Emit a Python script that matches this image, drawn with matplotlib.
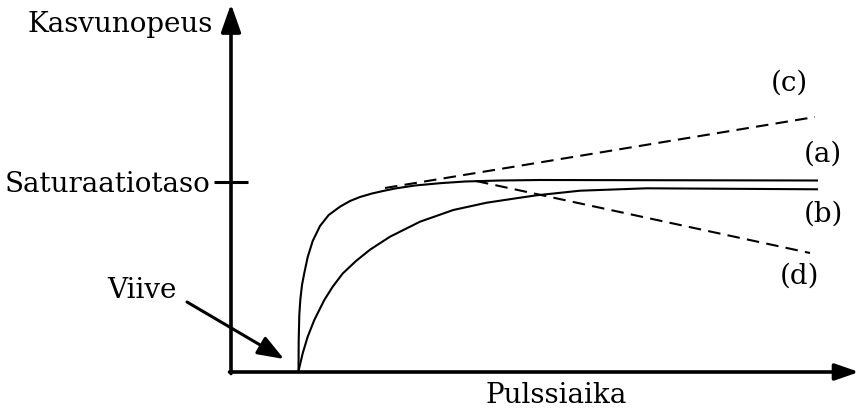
import matplotlib
matplotlib.use("Agg")
import matplotlib.pyplot as plt

plt.rcParams['font.family'] = ['DejaVu Serif']

W, H = 860, 411
# akselien alkupiste ja koko pikseleinä
X0, Y0 = 231, 372
AX_W, AX_H = 629, 367

# kasvunopeus pulssiajan funktiona (t, r)
t_a = [67.5, 67.7, 68.3, 69.3, 71, 73.3, 76.7, 81.7, 89, 97.7, 109, 119, 129,
       141, 152, 164, 184, 209, 234, 269, 309, 587]
r_a = [0, 32, 57, 72, 87, 99, 115, 131, 146, 157, 165.3, 171, 175,
       178.5, 181, 183.5, 186.5, 188.8, 190.5, 191.5, 192, 191.5]

t_b = [67.3, 71.7, 76.7, 83.3, 93.3, 101.7, 111.7, 125, 139, 159, 189, 222.3,
       255.7, 289, 305.7, 349, 415.7, 587]
r_b = [0, 18.7, 35.3, 52, 72, 85.3, 98.5, 111, 122.3, 135.3, 150.3, 162,
       169.3, 174.3, 176.7, 181.3, 183.7, 182.7]

t_c = [154, 584]
r_c = [184, 255]

t_d = [245, 579]
r_d = [191, 119]

SAT = 190.3
curve_labels = ['(a)', '(b)', '(c)', '(d)']
label_pos = [(592, 218), (592, 158), (558, 289), (568, 96)]

fig = plt.figure(figsize=(W / 100, H / 100), dpi=100)
ax = fig.add_axes([X0 / W, (H - Y0) / H, AX_W / W, AX_H / H])
ax.set_xlim(0, AX_W)
ax.set_ylim(0, AX_H)

for s in ax.spines.values():
    s.set_visible(False)

# akselit nuolina
ax.annotate('', xy=(0, AX_H + 1), xytext=(0, -1.5), annotation_clip=False,
            arrowprops=dict(arrowstyle='-|>,head_length=0.85,head_width=0.3',
                            lw=2.6, color='k', shrinkA=0, shrinkB=0, mutation_scale=20))
ax.annotate('', xy=(AX_W - 1, 0), xytext=(-1.5, 0), annotation_clip=False,
            arrowprops=dict(arrowstyle='-|>,head_length=0.72,head_width=0.25',
                            lw=2.6, color='k', shrinkA=0, shrinkB=0, mutation_scale=20))

ax.set_xticks([])
ax.set_yticks([SAT])
ax.set_yticklabels(['Saturaatiotaso'], fontsize=20)
ax.tick_params(axis='y', direction='inout', length=25, width=2.2, pad=2.5)

ax.plot(t_a, r_a, color='k', lw=1.5, solid_capstyle='butt', solid_joinstyle='round')
ax.plot(t_b, r_b, color='k', lw=1.5, solid_capstyle='butt', solid_joinstyle='round')
ax.plot(t_c, r_c, color='k', lw=1.5, dashes=(6, 3.5))
ax.plot(t_d, r_d, color='k', lw=1.5, dashes=(6, 3.5))

for lab, (x, y) in zip(curve_labels, label_pos):
    ax.text(x, y, lab, fontsize=20, ha='center', va='center')

ax.text(-18, 347, 'Kasvunopeus', fontsize=20, ha='right', va='center', clip_on=False)
ax.text(325, -10, 'Pulssiaika', fontsize=20, ha='center', va='top', clip_on=False)

ax.text(-54, 82, 'Viive', fontsize=20, ha='right', va='center', clip_on=False)
ax.annotate('', xy=(53, 13), xytext=(-44, 70), annotation_clip=False,
            arrowprops=dict(arrowstyle='-|>,head_length=0.8,head_width=0.3',
                            lw=2.2, color='k', shrinkA=0, shrinkB=0, mutation_scale=20))

fig.savefig('out.png', dpi=100)
